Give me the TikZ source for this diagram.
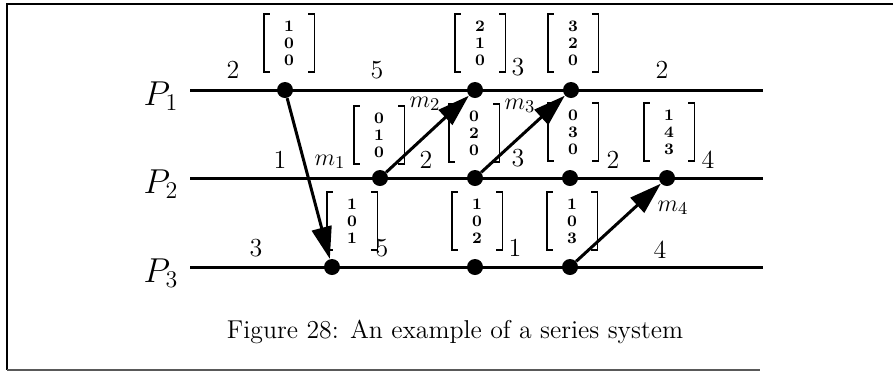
\documentclass[tikz,border=0pt]{standalone}
\usetikzlibrary{arrows.meta}
\begin{document}
\begin{tikzpicture}[x=0.5pt,y=-0.5pt,
  dot/.style={circle,fill,inner sep=0pt,minimum size=8pt},
  proc/.style={line width=1.5pt},
  msg/.style={line width=1.5pt,-{Triangle[length=16pt,width=10pt]}},
  num/.style={inner sep=0pt,font=\fontsize{13}{15}\selectfont},
  vec/.style={minimum width=25pt,minimum height=28.5pt,inner sep=0pt,align=center,
    font=\fontsize{8}{8.5}\selectfont\bfseries,
    append after command={\pgfextra{\draw[line width=0.9pt]
      ([xshift=3pt]\tikzlastnode.north west) -- (\tikzlastnode.north west)
      -- (\tikzlastnode.south west) -- ([xshift=3pt]\tikzlastnode.south west)
      ([xshift=-3pt]\tikzlastnode.north east) -- (\tikzlastnode.north east)
      -- (\tikzlastnode.south east) -- ([xshift=-3pt]\tikzlastnode.south east);}}}]
  \useasboundingbox (0,0) rectangle (894,372);
  % frame
  \draw[line width=1.2pt] (893,4) -- (7,4) -- (7,370);
  \draw[gray!70!black,line width=0.7pt] (7,370) -- (760,370);
  % processes
  \foreach \i/\y in {1/90,2/178,3/267}{
    \node[inner sep=0pt,font=\fontsize{17.5}{20}\selectfont] (p\i) at (161,\y+6) {$P_\i$};
    \coordinate (s\i) at (190,\y);
    \coordinate (e\i) at (763,\y);
    \draw[proc] (s\i) -- (e\i);
  }
  % events
  \foreach \n/\x in {a1/285,a2/475,a3/571} \node[dot] (\n) at (\x,90) {};
  \foreach \n/\x in {b1/380,b2/475,b3/570,b4/667} \node[dot] (\n) at (\x,178) {};
  \foreach \n/\x in {c1/332,c2/475,c3/570} \node[dot] (\n) at (\x,267) {};
  % messages
  \draw[msg] (a1) -- (c1);
  \draw[msg] (b1) -- (a2);
  \draw[msg] (b2) -- (a3);
  \draw[msg] (c3) -- (b4);
  \node[num] (m1) at (330,162) {$m_1$};
  \node[num] (m2) at (425,104) {$m_2$};
  \node[num] (m3) at (520,106) {$m_3$};
  \node[num] (m4) at (673,208) {$m_4$};
  % vector clocks
  \foreach \n/\x/\y/\a/\b/\c in {v1/289/43/1/0/0,v2/480/43/2/1/0,v3/573/43/3/2/0,
      v4/379/135/0/1/0,v5/474/133/0/2/0,v6/573/132/0/3/0,v7/669/132/1/4/3,
      v8/352/221/1/0/1,v9/477/221/1/0/2,v10/572/221/1/0/3}
    \node[vec] (\n) at (\x,\y) {\a\\\b\\\c};
  % counters
  \foreach \n/\x/\y/\t in {l1/233/70/2,l2/377/70/5,l3/518/67/3,l4/662/70/2,
      l5/280/160/1,l6/426/160/2,l7/518/158/3,l8/613/160/2,l9/708/160/4,
      l10/256/248/3,l11/382/248/5,l12/515/248/1,l13/660/250/4}
    \node[num] (\n) at (\x,\y) {\t};
  \node[font=\fontsize{12.9}{15}\selectfont] (cap) at (455,332) {Figure 28: An example of a series system};
\end{tikzpicture}
\end{document}
